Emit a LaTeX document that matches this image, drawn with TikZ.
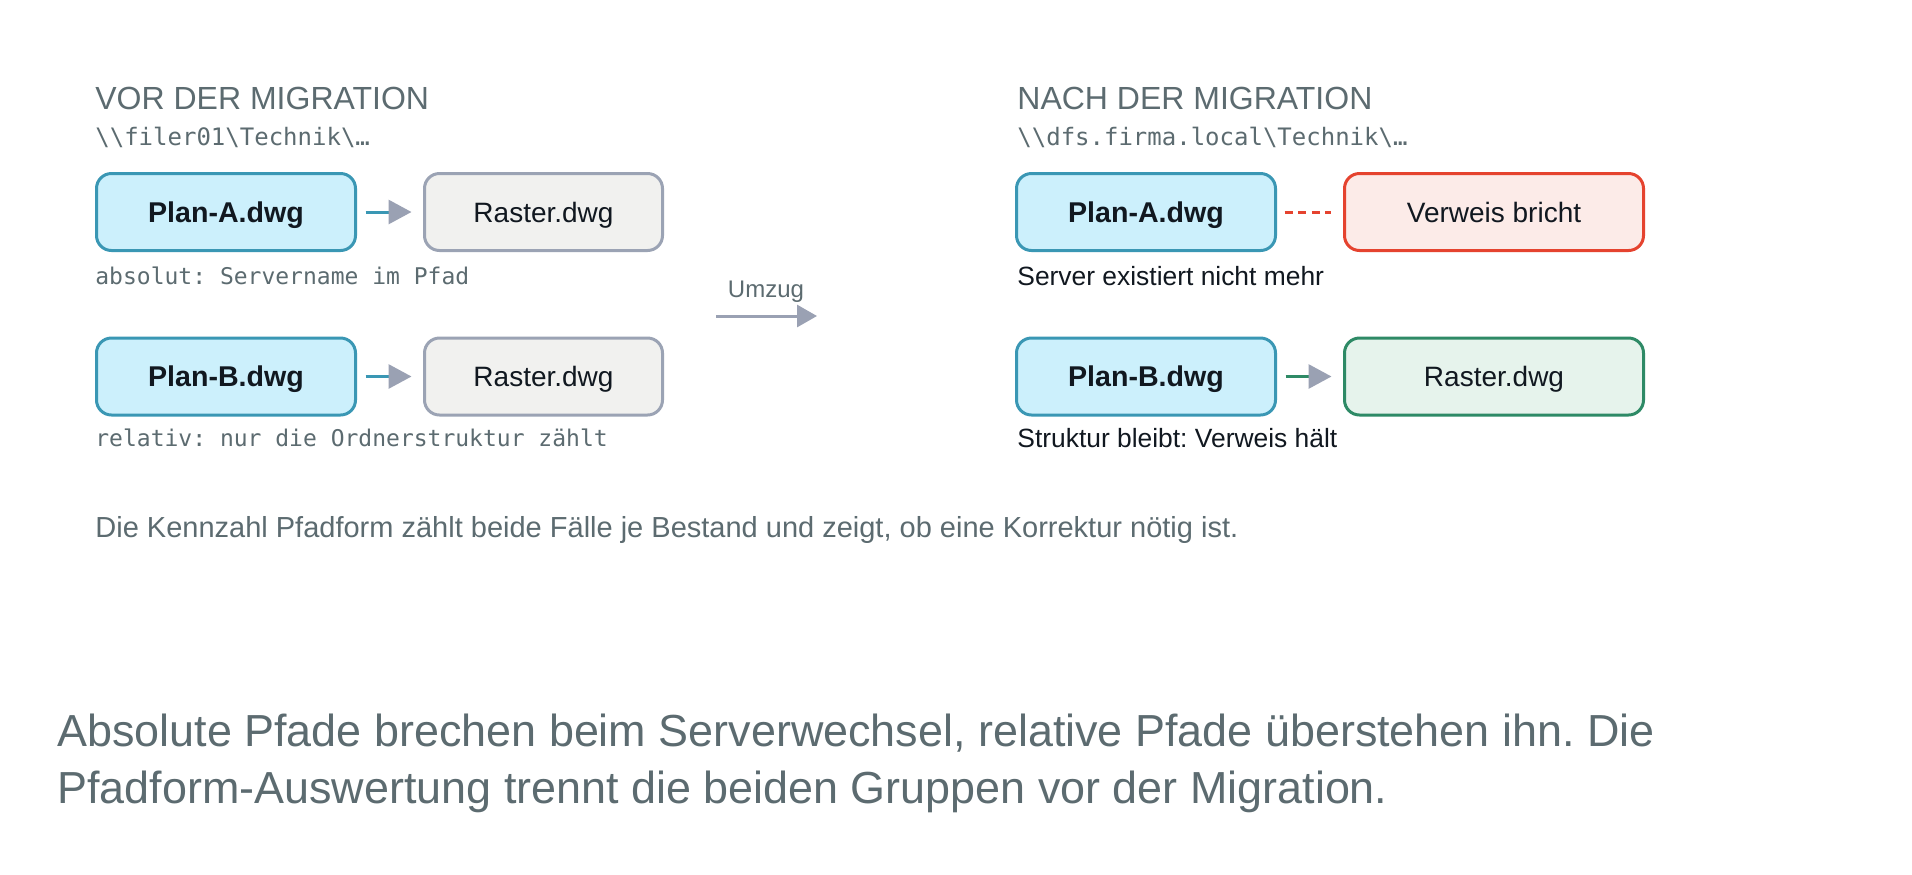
\documentclass[tikz,border=0pt]{standalone}
\usepackage{fontspec}
\setmainfont{Liberation Sans}
\setmonofont{DejaVu Sans Mono}
\usetikzlibrary{arrows.meta}
\frenchspacing
\definecolor{greytext}{HTML}{5C6B70}
\definecolor{darktext}{HTML}{111820}
\definecolor{planfill}{HTML}{CCF0FC}
\definecolor{planborder}{HTML}{3A97B4}
\definecolor{rasterfill}{HTML}{F1F1EF}
\definecolor{rasterborder}{HTML}{9BA3B4}
\definecolor{headgrey}{HTML}{9AA1B3}
\definecolor{redborder}{HTML}{E5432F}
\definecolor{redfill}{HTML}{FCEBE8}
\definecolor{greenborder}{HTML}{2E8A66}
\definecolor{greenfill}{HTML}{E6F3EC}
\tikzset{
  box/.style={rounded corners=7.5pt, line width=1.5pt, minimum height=38.5pt, inner sep=0pt, text=darktext, text height=10.2pt, text depth=0pt},
  plan/.style={box, draw=planborder, fill=planfill, minimum width=129.5pt, font=\fontsize{14.3}{17}\selectfont\bfseries},
  rasterbox/.style={box, draw=rasterborder, fill=rasterfill, minimum width=119pt, font=\fontsize{14}{17}\selectfont},
  brokenbox/.style={box, draw=redborder, fill=redfill, minimum width=149.5pt, font=\fontsize{14}{17}\selectfont},
  okbox/.style={box, draw=greenborder, fill=greenfill, minimum width=149.5pt, font=\fontsize{14}{17}\selectfont},
  heading/.style={anchor=base west, inner sep=0pt, text=greytext, font=\fontsize{16}{19}\selectfont},
  pathtext/.style={anchor=base west, inner sep=0pt, text=greytext, font=\fontsize{12}{14}\selectfont\ttfamily},
  monoanno/.style={anchor=base west, inner sep=0pt, text=greytext, font=\fontsize{11.5}{14}\selectfont\ttfamily},
  sansanno/.style={anchor=base west, inner sep=0pt, text=darktext, font=\fontsize{13.2}{16}\selectfont},
  conn/.style={line width=1.5pt, shorten <=4.25pt, shorten >=5.75pt,
    -{Triangle[length=11.5pt,width=12pt,color=headgrey,fill=headgrey]}},
}
\begin{document}
\begin{tikzpicture}[x=0.5pt,y=-0.5pt]
\useasboundingbox[fill=white] (0,0) rectangle (1912,874);

% headings
\node[heading] (h1) at (95,109) {VOR DER MIGRATION};
\node[pathtext] (p1) at (95,145) {\textbackslash\textbackslash filer01\textbackslash Technik\textbackslash …};
\node[heading] (h2) at (1017,109) {NACH DER MIGRATION};
\node[pathtext] (p2) at (1017,145) {\textbackslash\textbackslash dfs.firma.local\textbackslash Technik\textbackslash …};

% left boxes
\node[plan] (pa1) at (226,212) {Plan-A.dwg};
\node[rasterbox] (ra1) at (543.5,212) {Raster.dwg};
\node[plan] (pb1) at (226,376.5) {Plan-B.dwg};
\node[rasterbox] (rb1) at (543.5,376.5) {Raster.dwg};
\draw[conn, draw=planborder] (pa1.east) -- (ra1.west);
\draw[conn, draw=planborder] (pb1.east) -- (rb1.west);
\node[monoanno] (a1) at (95,284.5) {absolut: Servername im Pfad};
\node[monoanno] (a2) at (95,446) {relativ: nur die Ordnerstruktur zählt};

% move arrow
\coordinate (m1) at (716,316);
\coordinate (m2) at (817,316);
\draw[line width=1.5pt, draw=headgrey, -{Triangle[length=10pt,width=11pt,color=headgrey,fill=headgrey]}] (m1) -- (m2);
\node[anchor=base, inner sep=0pt, text=greytext, font=\fontsize{12}{14}\selectfont] (um) at (766,297) {Umzug};

% right boxes
\node[plan] (pa2) at (1146,212) {Plan-A.dwg};
\node[brokenbox] (vb) at (1494,212) {Verweis bricht};
\node[plan] (pb2) at (1146,376.5) {Plan-B.dwg};
\node[okbox] (rb2) at (1494,376.5) {Raster.dwg};
\draw[line width=1.5pt, draw=redborder, dash pattern=on 4pt off 2.83pt, shorten <=3.75pt, shorten >=6.25pt] (pa2.east) -- (vb.west);
\draw[conn, draw=greenborder] (pb2.east) -- (rb2.west);
\node[sansanno] (s1) at (1017,285) {Server existiert nicht mehr};
\node[sansanno] (s2) at (1017,447) {Struktur bleibt: Verweis hält};

% footnote
\node[anchor=base west, inner sep=0pt, text=greytext, font=\fontsize{14.5}{17}\selectfont] (note) at (95,537) {Die Kennzahl Pfadform zählt beide Fälle je Bestand und zeigt, ob eine Korrektur nötig ist.};

% caption
\node[anchor=base west, inner sep=0pt, text=greytext, font=\fontsize{22.45}{28.5}\selectfont, align=left] (cap) at (57,803) {Absolute Pfade brechen beim Serverwechsel, relative Pfade überstehen ihn. Die\\Pfadform-Auswertung trennt die beiden Gruppen vor der Migration.};
\end{tikzpicture}
\end{document}
